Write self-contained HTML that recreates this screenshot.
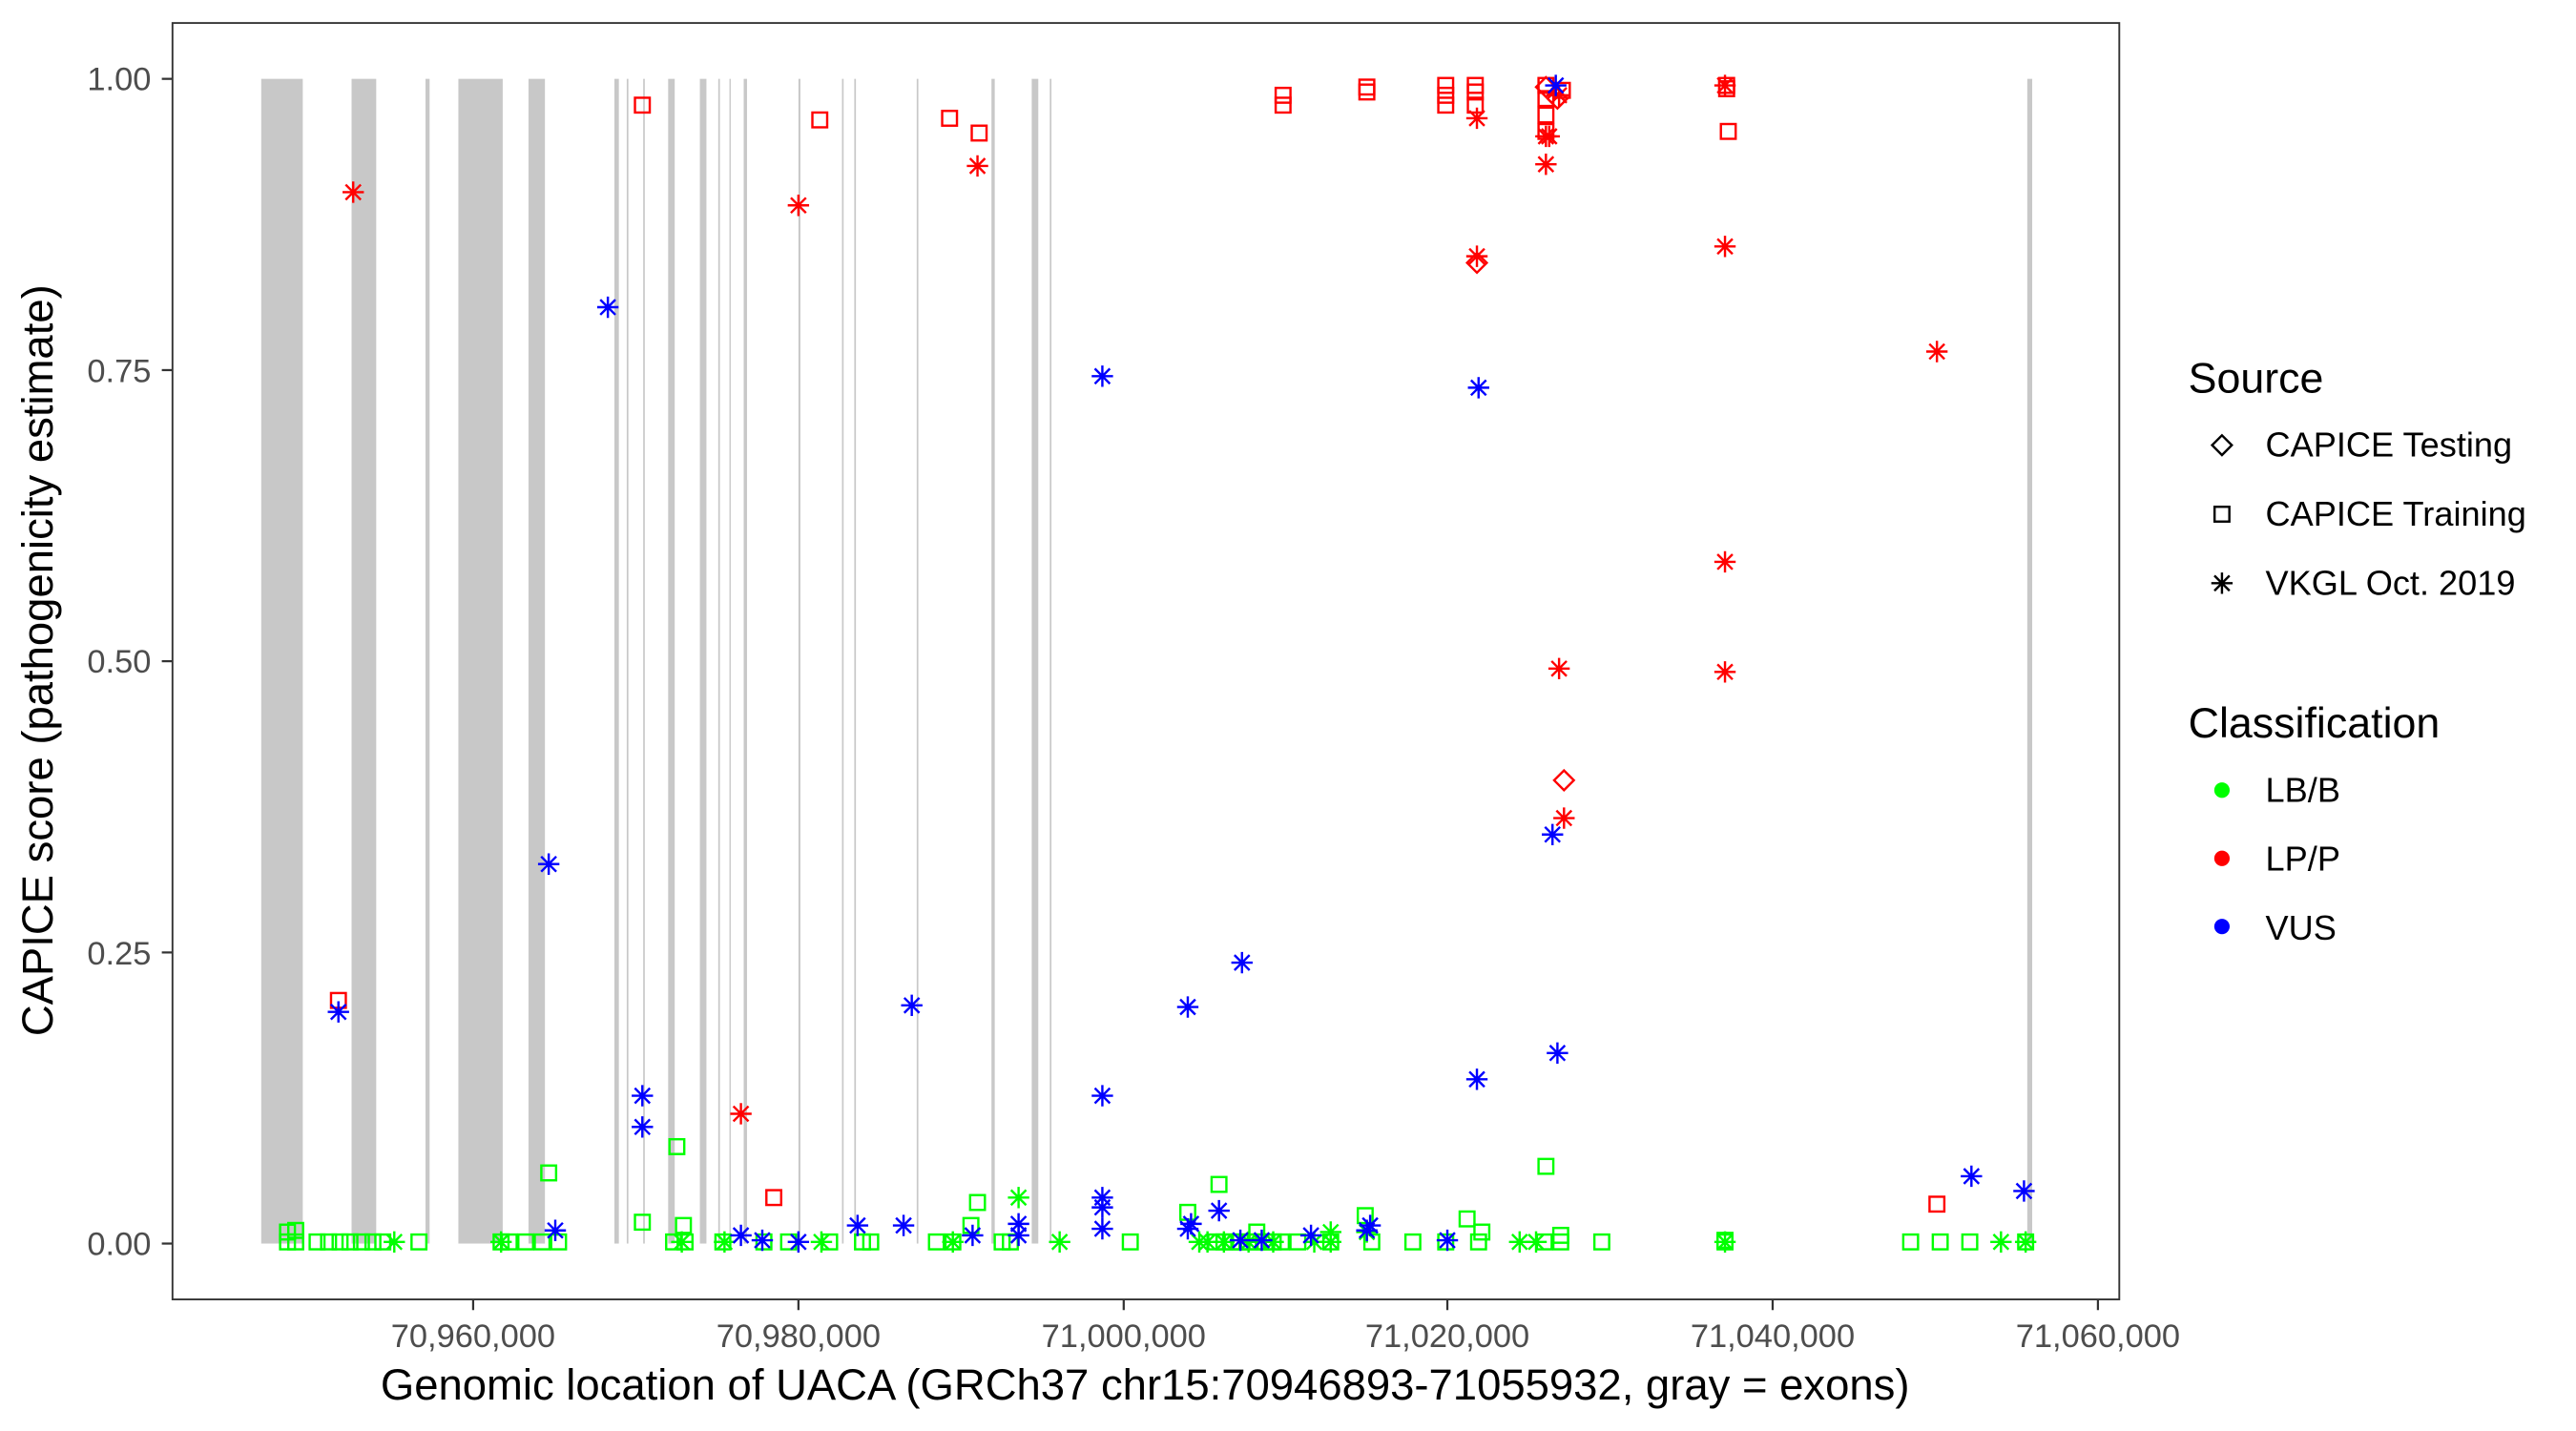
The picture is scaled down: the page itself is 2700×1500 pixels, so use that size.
<!DOCTYPE html>
<html><head><meta charset="utf-8"><style>html,body{margin:0;padding:0;background:#fff}svg{display:block}</style></head>
<body>
<svg id="s" xmlns="http://www.w3.org/2000/svg" width="2700" height="1500" viewBox="0 0 1568 871.1" preserveAspectRatio="none" font-family="Liberation Sans, Arial, sans-serif">
<rect x="0" y="0" width="1568" height="871.1" fill="#fff"/>
<g id="ex" fill="#c8c8c8"></g>
<g id="pts" fill="none" stroke-width="1.4"></g>
<rect x="105" y="14" width="1185" height="777" fill="none" stroke="#333" stroke-width="1.1"/>
<g stroke="#333" stroke-width="1.3">
<line x1="98.5" x2="105" y1="48" y2="48"/><line x1="98.5" x2="105" y1="225.3" y2="225.3"/><line x1="98.5" x2="105" y1="402.5" y2="402.5"/><line x1="98.5" x2="105" y1="579.8" y2="579.8"/><line x1="98.5" x2="105" y1="757" y2="757"/>
<line y1="791" y2="797.5" x1="288" x2="288"/><line y1="791" y2="797.5" x1="486" x2="486"/><line y1="791" y2="797.5" x1="684" x2="684"/><line y1="791" y2="797.5" x1="881" x2="881"/><line y1="791" y2="797.5" x1="1079" x2="1079"/><line y1="791" y2="797.5" x1="1277" x2="1277"/>
</g>
<g fill="#4d4d4d" font-size="20" text-anchor="end">
<text x="92" y="55">1.00</text><text x="92" y="232.5">0.75</text><text x="92" y="409.5">0.50</text><text x="92" y="587">0.25</text><text x="92" y="764">0.00</text>
</g>
<g fill="#4d4d4d" font-size="20" text-anchor="middle">
<text x="288" y="820">70,960,000</text><text x="486" y="820">70,980,000</text><text x="684" y="820">71,000,000</text><text x="881" y="820">71,020,000</text><text x="1079" y="820">71,040,000</text><text x="1277" y="820">71,060,000</text>
</g>
<text x="697" y="852" font-size="26.4" text-anchor="middle" fill="#000">Genomic location of UACA (GRCh37 chr15:70946893-71055932, gray = exons)</text>
<text transform="translate(32,402) rotate(-90)" font-size="26.4" text-anchor="middle" fill="#000">CAPICE score (pathogenicity estimate)</text>
<text x="1332" y="239" font-size="26" fill="#000">Source</text>
<text x="1379" y="278" font-size="21" fill="#000">CAPICE Testing</text>
<text x="1379" y="320" font-size="21" fill="#000">CAPICE Training</text>
<text x="1379" y="362" font-size="21" fill="#000">VKGL Oct. 2019</text>
<text x="1332" y="449" font-size="26" fill="#000">Classification</text>
<text x="1379" y="488" font-size="21" fill="#000">LB/B</text>
<text x="1379" y="530" font-size="21" fill="#000">LP/P</text>
<text x="1379" y="572" font-size="21" fill="#000">VUS</text>
<circle cx="1352.5" cy="481" r="4.7" fill="#00ff00"/><circle cx="1352.5" cy="522.5" r="4.7" fill="#ff0000"/><circle cx="1352.5" cy="564" r="4.7" fill="#0000ff"/>
<g id="leg" fill="none" stroke="#000" stroke-width="1.4"></g>
</svg>
<script>
var NS="http://www.w3.org/2000/svg";
function el(p,t,a){var e=document.createElementNS(NS,t);for(var k in a)e.setAttribute(k,a[k]);p.appendChild(e);return e;}
var ex=document.getElementById('ex');
[[159,184.3],[214,229],[259,261.5],[279,306],[321.7,331.7],[374,376.7],[381.5,382.5],[391.5,392.5],[406.7,410.7],[426,430],[437.2,438.2],[444,444.8],[452.7,454.7],[486,487.2],[512.5,513.5],[520,521],[558,559],[603.5,605.5],[628,632],[639,640],[1234,1237]].forEach(function(r){el(ex,'rect',{x:r[0],y:48,width:r[1]-r[0],height:709});});
var P=document.getElementById('pts');
function sq(g,x,y,c){el(g,'rect',{x:x-4.5,y:y-4.5,width:9,height:9,stroke:c});}
function ast(g,x,y,c){var d='M'+x+' '+(y-6.5)+'V'+(y+6.5)+'M'+(x-6.5)+' '+y+'H'+(x+6.5)+'M'+(x-4.6)+' '+(y-4.6)+'L'+(x+4.6)+' '+(y+4.6)+'M'+(x-4.6)+' '+(y+4.6)+'L'+(x+4.6)+' '+(y-4.6);el(g,'path',{d:d,stroke:c});}
function dia(g,x,y,c){el(g,'path',{d:'M'+x+' '+(y-6)+'L'+(x+6)+' '+y+'L'+x+' '+(y+6)+'L'+(x-6)+' '+y+'Z',stroke:c});}
var G='#00ff00',R='#ff0000',B='#0000ff';
[175,180,193,200,207,213,220,227,233,255,305,310,320,330,340,410,417,440,465,480,505,525,530,570,580,610,615,688,740,745,750,755,760,765,770,775,780,790,810,835,860,880,900,940,950,975,1050,1163,1181,1199,1233].forEach(function(x){sq(P,x,756,G);});
[[175,750],[180,749],[334,714],[391,744],[412,698],[416,746],[595,732],[591,746],[723,738],[742,721],[765,750],[831,740],[893,742],[902,750],[941,710],[950,752],[1050,755]].forEach(function(p){sq(P,p[0],p[1],G);});
[240,305,415,441,500,580,645,730,735,745,760,775,800,810,925,935,1050,1218,1233].forEach(function(x){ast(P,x,756,G);});
[[620,729],[810,750],[832,750]].forEach(function(p){ast(P,p[0],p[1],G);});
[[206,609],[391,64],[499,73],[578,72],[596,81],[471,729],[781,58],[781,64],[832,53],[832,56],[880,52],[880,58],[880,64],[898,52],[898,56],[898,64],[941,52],[941,60],[941,70],[941,80],[951,55],[1051,52],[1051,54],[1052,80],[1179,733]].forEach(function(p){sq(P,p[0],p[1],R);});
[[215,117],[486,125],[595,101],[451,678],[899,72],[899,156],[941,83],[941,100],[943,83],[949,407],[952,498],[949,58],[1050,150],[1050,342],[1050,409],[1179,214],[1050,52]].forEach(function(p){ast(P,p[0],p[1],R);});
[[899,160],[952,475],[941,53],[948,60]].forEach(function(p){dia(P,p[0],p[1],R);});
[[206,616],[370,187],[334,526],[391,667],[391,686],[555,612],[671,229],[671,667],[723,613],[756,586],[900,236],[899,657],[945,508],[948,641],[1200,716],[1232,725],[947,52],[338,749],[451,752],[464,755],[486,756],[522,746],[550,746],[592,752],[620,745],[620,752],[671,729],[671,735],[671,748],[723,748],[725,745],[742,737],[755,755],[768,755],[798,752],[832,749],[834,746],[881,755]].forEach(function(p){ast(P,p[0],p[1],B);});
var L=document.getElementById('leg');
dia(L,1352.5,271,'#000');sq(L,1352.5,313,'#000');ast(L,1352.5,355,'#000');
</script>
</body></html>
